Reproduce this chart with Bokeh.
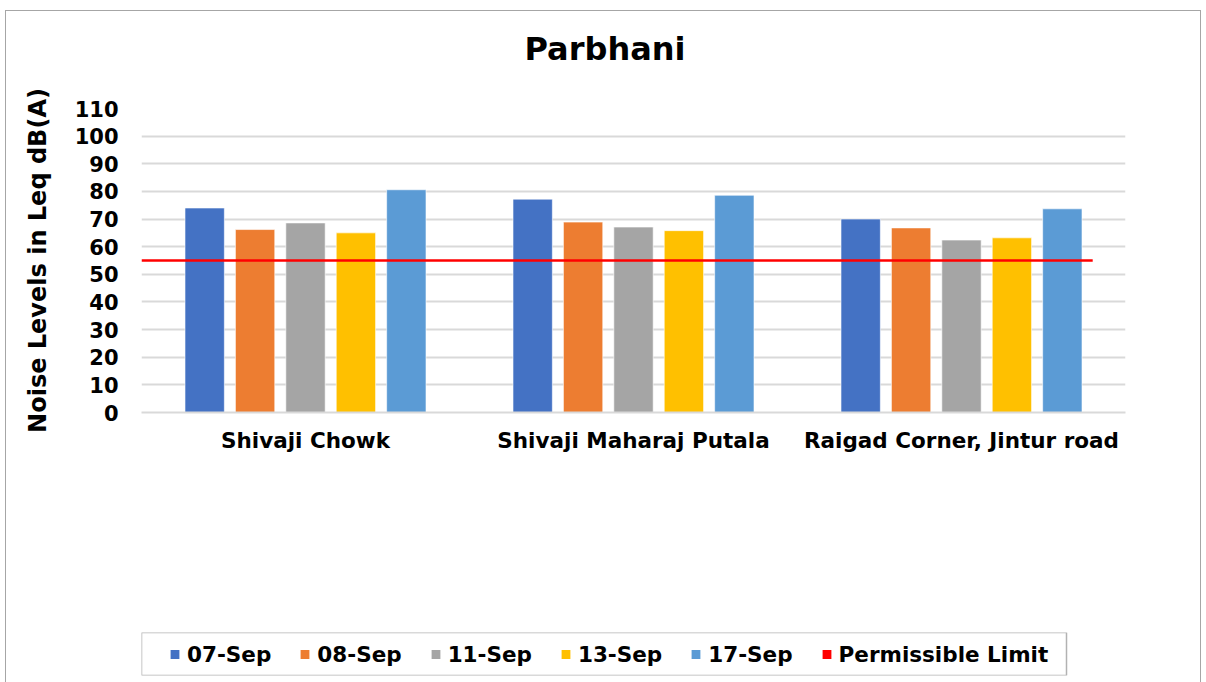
from bokeh.plotting import figure
from bokeh.models import Range1d, FixedTicker, Legend, LegendItem, BoxAnnotation, Title
from bokeh.layouts import column
from bokeh.embed import file_html
from bokeh.resources import INLINE

locations = ["Shivaji Chowk", "Shivaji Maharaj Putala", "Raigad Corner, Jintur road"]
series_names = ["07-Sep", "08-Sep", "11-Sep", "13-Sep", "17-Sep"]
sep07 = [74.0, 77.2, 70.0]
sep08 = [66.2, 68.9, 66.8]
sep11 = [68.6, 67.1, 62.4]
sep13 = [65.0, 65.8, 63.2]
sep17 = [80.6, 78.6, 73.7]
permissible_limit = 55
limit_label = "Permissible Limit"
chart_title = "Parbhani"
y_ticks = list(range(0, 111, 10))

colors = ["#4472C4", "#ED7D31", "#A5A5A5", "#FFC000", "#5B9BD5"]
limit_color = "#FF0000"
series = [sep07, sep08, sep11, sep13, sep17]

FONT = "DejaVu Sans"
W = 1194
BL, BR = 135, 75
FRAME_W = W - BL - BR

p = figure(width=W, height=609, output_backend="svg", toolbar_location=None,
           x_range=Range1d(0, 3), y_range=Range1d(0, 110),
           min_border_left=BL, min_border_right=BR, min_border_top=97,
           min_border_bottom=208)
p.outline_line_color = None

p.title.text = chart_title
p.title.align = "left"
p.title.offset = 383
p.title.standoff = 0
p.title.text_font = FONT
p.title.text_font_style = "bold"
p.title.text_font_size = "32px"
p.title.text_color = "black"
# empty spacer between the title and the frame
p.add_layout(Title(text=" ", text_font_size="1px", standoff=38), "above")

centers = [i + 0.5 for i in range(len(locations))]
step = 0.1537
width = 0.12
for k, (vals, c) in enumerate(zip(series, colors)):
    xs = [cx + (k - 2) * step for cx in centers]
    p.vbar(x=xs, top=vals, width=width, bottom=0, fill_color=c,
           line_color="white", line_alpha=0.6, line_width=1)

p.line(x=[0, 2.9], y=[permissible_limit] * 2, line_color=limit_color, line_width=2.5)

p.xaxis.ticker = FixedTicker(ticks=centers)
p.xaxis.major_label_overrides = {c: n for c, n in zip(centers, locations)}
p.xaxis.major_tick_line_color = None
p.xaxis.minor_tick_line_color = None
p.xaxis.axis_line_color = "#d9d9d9"
p.xaxis.axis_line_width = 2
p.xaxis.major_label_text_font = FONT
p.xaxis.major_label_text_font_style = "bold"
p.xaxis.major_label_text_font_size = "21.5px"
p.xaxis.major_label_text_color = "black"
p.xaxis.major_label_standoff = 9
p.xgrid.grid_line_color = None

p.yaxis.ticker = FixedTicker(ticks=y_ticks)
p.yaxis.major_tick_line_color = None
p.yaxis.minor_tick_line_color = None
p.yaxis.axis_line_color = None
p.yaxis.major_label_text_font = FONT
p.yaxis.major_label_text_font_style = "bold"
p.yaxis.major_label_text_font_size = "21px"
p.yaxis.major_label_text_color = "black"
p.yaxis.major_label_standoff = 17
p.yaxis.axis_label = "Noise Levels in Leq dB(A)"
p.yaxis.axis_label_text_font = FONT
p.yaxis.axis_label_text_font_style = "bold"
p.yaxis.axis_label_text_font_size = "24px"
p.yaxis.axis_label_text_color = "black"
p.yaxis.axis_label_standoff = 20
p.ygrid.grid_line_color = "#d9d9d9"
p.ygrid.grid_line_width = 2

# legend strip below the chart
LEG_W, LEG_H = 925, 43
lg = figure(width=W, height=62, output_backend="svg", toolbar_location=None,
            x_range=Range1d(0, FRAME_W), y_range=Range1d(0, LEG_H),
            min_border_left=BL, min_border_right=BR,
            min_border_top=12, min_border_bottom=7)
lg.axis.visible = False
lg.grid.grid_line_color = None
lg.outline_line_color = None
lg.add_layout(BoxAnnotation(left=0, right=LEG_W, bottom=0, top=LEG_H,
                            fill_alpha=0, line_color="black", line_width=1.5))

swatches = []
nan = float("nan")
for n, c in zip(series_names + [limit_label], colors + [limit_color]):
    r = lg.vbar(x=[nan], top=[nan], width=0.1, fill_color=c, line_color=None)
    swatches.append(LegendItem(label=n, renderers=[r]))

legend = Legend(items=swatches, orientation="horizontal", location="left",
                border_line_color=None, background_fill_alpha=0,
                label_text_font=FONT, label_text_font_style="bold",
                label_text_font_size="21.5px", label_text_color="black",
                glyph_width=11, glyph_height=11,
                spacing=28, padding=0, margin=28, label_standoff=7)
lg.add_layout(legend, "center")

layout = column(p, lg, spacing=0)
layout.margin = (10, 0, 0, 5)
layout.styles = {"border": "1px solid #a6a6a6"}

open("out.html", "w").write(file_html(layout, INLINE))
